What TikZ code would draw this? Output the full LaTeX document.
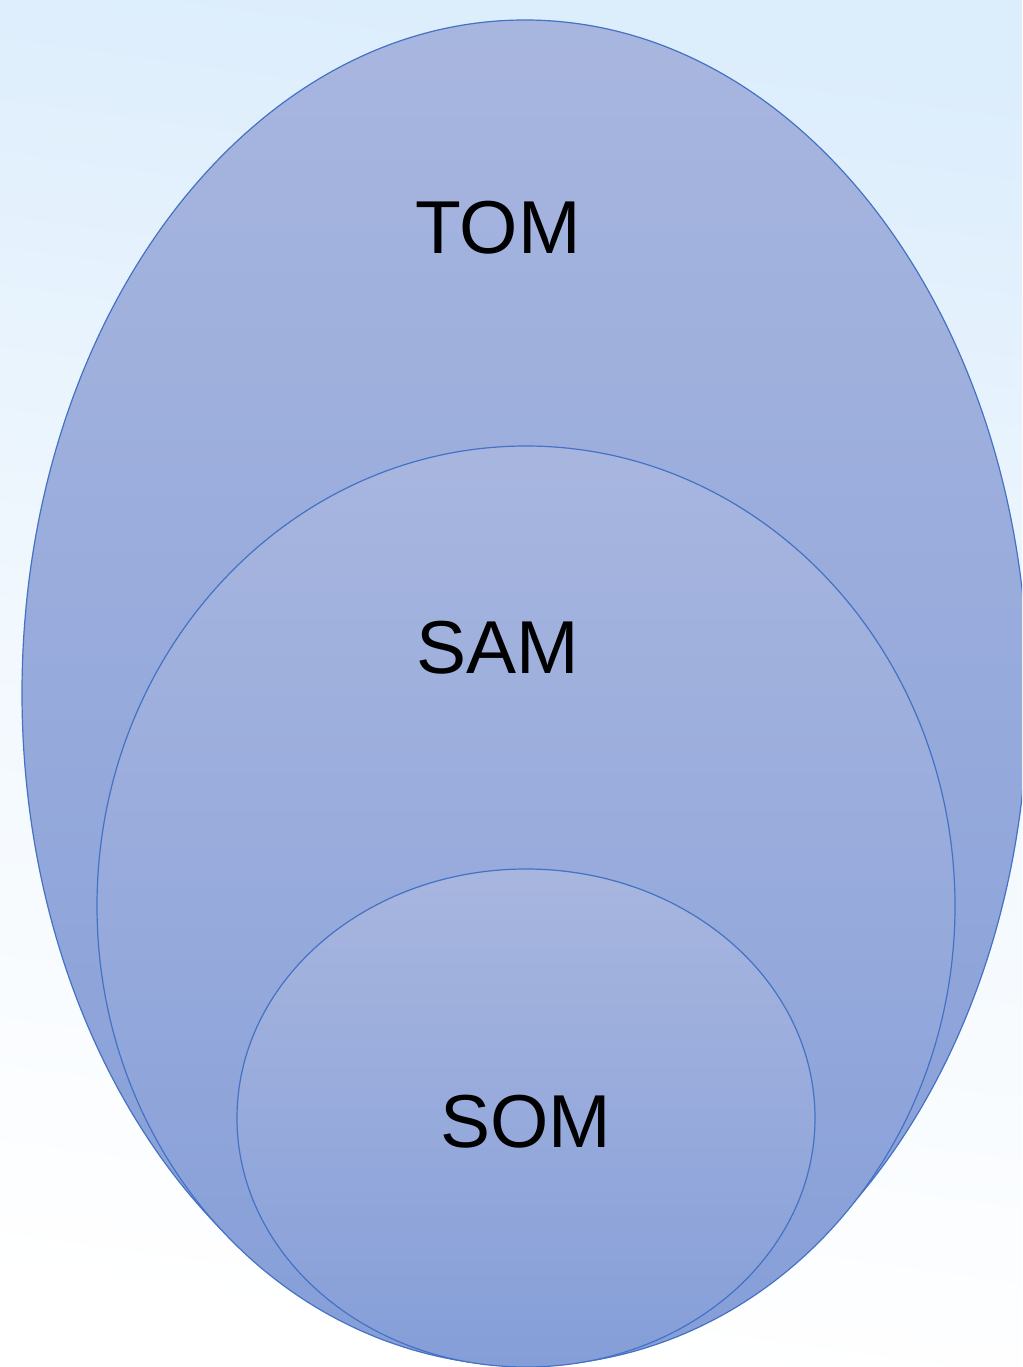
\documentclass[tikz,border=0pt]{standalone}
\usepackage{fontspec}
\setmainfont{Liberation Sans}
\usetikzlibrary{shapes.geometric}
\definecolor{bgblue}{HTML}{DCEDFC}
\definecolor{ovaltop}{HTML}{A8B6DF}
\definecolor{ovalbot}{HTML}{859ED8}
\definecolor{ovalline}{HTML}{4472C4}
\begin{document}
\begin{tikzpicture}[x=1pt,y=-1pt]

      \useasboundingbox (0,0) rectangle (1022,1367);
      \clip (0,0) rectangle (1022,1367);
      \shade[top color=bgblue,bottom color=white,middle color=white!60!bgblue,shading angle=-8] (0,0) rectangle (1022,1367);

      \begin{scope}[every node/.style={ellipse,draw=ovalline,line width=1.2pt,inner sep=0pt,
          top color=ovaltop,bottom color=ovalbot}]
        \node[minimum width=1006pt,minimum height=1346pt] (tom) at (525,693)  {};
        \node[minimum width=858pt,minimum height=920pt]   (sam) at (526,906)  {};
        \node[minimum width=578pt,minimum height=498pt]   (som) at (526,1118) {};
      \end{scope}

      \begin{scope}[every node/.style={font=\fontsize{75}{82}\selectfont,inner sep=0pt}]
        \node (tomtext) at (498,228)  {TOM};
        \node (samtext) at (498,648)  {SAM};
        \node (somtext) at (526,1122) {SOM};
      \end{scope}

    \end{tikzpicture}
\end{document}
